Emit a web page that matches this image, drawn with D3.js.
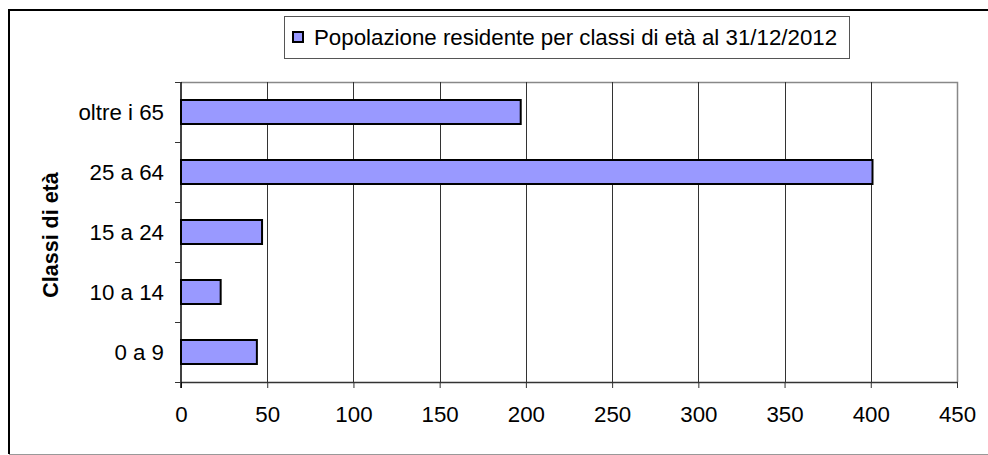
<!DOCTYPE html>
<html>
<head>
<meta charset="utf-8">
<script src="https://cdn.jsdelivr.net/npm/d3@7"></script>
<style>
  body { margin: 0; background: #fff; }
  text { font-family: "Liberation Sans", Arial, sans-serif; fill: #000; }
</style>
</head>
<body>
<div id="chart"></div>
<script>
  // age classes, bottom to top as in the picture
  const categories = ["0 a 9", "10 a 14", "15 a 24", "25 a 64", "oltre i 65"];
  const values = [44, 23, 47, 401, 197];
  const xTicks = [0, 50, 100, 150, 200, 250, 300, 350, 400, 450];
  const legendLabel = "Popolazione residente per classi di età al 31/12/2012";
  const yTitle = "Classi di età";

  const width = 988, height = 455;
  const margin = { top: 82, right: 30, bottom: 73, left: 181 };
  const fontSize = "22.3px";

  const svg = d3.select("#chart").append("svg")
    .attr("width", width)
    .attr("height", height);

  // outer frame (right side falls outside the picture)
  svg.append("path")
    .attr("d", `M994,10 H9 V454`)
    .attr("fill", "none")
    .attr("stroke", "#000")
    .attr("stroke-width", 2);
  svg.append("line")
    .attr("x1", 9).attr("x2", 994)
    .attr("y1", 454.5).attr("y2", 454.5)
    .attr("stroke", "#999");

  let x = d3.scaleLinear()
    .domain([0, 450])
    .range([margin.left, width - margin.right - 1]);

  let y = d3.scaleBand()
    .domain(categories.slice().reverse())
    .range([margin.top, height - margin.bottom])
    .paddingInner(0.6)
    .paddingOuter(0.3);

  const plotBottom = height - margin.bottom;

  // plot frame top/right
  svg.append("path")
    .attr("d", `M${x(0)},${margin.top + 0.5} H${x(450) + 0.5} V${plotBottom}`)
    .attr("fill", "none")
    .attr("stroke", "#888")
    .attr("stroke-width", 1.5);

  // vertical gridlines
  svg.selectAll("line.grid")
    .data(xTicks.filter(d => d > 0 && d < 450))
    .enter()
    .append("line")
    .attr("class", "grid")
    .attr("x1", d => Math.round(x(d)) + 0.5)
    .attr("x2", d => Math.round(x(d)) + 0.5)
    .attr("y1", margin.top)
    .attr("y2", plotBottom)
    .attr("stroke", "#333");

  // x axis
  let xAxis = d3.axisBottom(x)
    .tickValues(xTicks)
    .tickSize(6)
    .tickSizeOuter(0)
    .tickPadding(18);

  let gx = svg.append("g")
    .attr("transform", `translate(0, ${plotBottom})`)
    .call(xAxis);
  gx.attr("font-size", null).attr("font-family", null);
  gx.select(".domain").attr("stroke", "#333").attr("stroke-width", 1.5);
  gx.selectAll(".tick line").attr("stroke", "#333");
  gx.selectAll("text")
    .style("font-size", fontSize)
    .attr("fill", "#000");

  // y axis: ticks between bands
  let yEdges = d3.range(categories.length + 1).map(i => margin.top + i * (plotBottom - margin.top) / categories.length);

  svg.append("line")
    .attr("x1", x(0)).attr("x2", x(0))
    .attr("y1", margin.top).attr("y2", plotBottom + 6)
    .attr("stroke", "#000")
    .attr("stroke-width", 1.5);

  svg.selectAll("line.ytick")
    .data(yEdges)
    .enter()
    .append("line")
    .attr("class", "ytick")
    .attr("x1", x(0) - 6).attr("x2", x(0))
    .attr("y1", d => Math.round(d) + 0.5).attr("y2", d => Math.round(d) + 0.5)
    .attr("stroke", "#333");

  svg.selectAll("text.cat")
    .data(categories)
    .enter()
    .append("text")
    .attr("class", "cat")
    .attr("x", x(0) - 17)
    .attr("y", d => y(d) + y.bandwidth() / 2)
    .attr("dy", "0.35em")
    .attr("text-anchor", "end")
    .style("font-size", fontSize)
    .text(d => d);

  // bars
  svg.selectAll("rect.bar")
    .data(categories.map((c, i) => ({ name: c, value: values[i] })))
    .enter()
    .append("rect")
    .attr("class", "bar")
    .attr("x", x(0))
    .attr("y", d => y(d.name))
    .attr("width", d => x(d.value) - x(0))
    .attr("height", y.bandwidth())
    .attr("fill", "#9999FF")
    .attr("stroke", "#000")
    .attr("stroke-width", 2);

  // y title
  svg.append("text")
    .attr("transform", `translate(58, ${(margin.top + plotBottom) / 2 + 3}) rotate(-90)`)
    .attr("text-anchor", "middle")
    .style("font-size", "21.5px")
    .style("font-weight", "bold")
    .text(yTitle);

  // legend
  let legend = svg.append("g");
  legend.append("rect")
    .attr("x", 284.5).attr("y", 16.5)
    .attr("width", 565).attr("height", 42)
    .attr("fill", "#fff")
    .attr("stroke", "#555");
  legend.append("rect")
    .attr("x", 293).attr("y", 32)
    .attr("width", 10).attr("height", 10)
    .attr("fill", "#9999FF")
    .attr("stroke", "#000")
    .attr("stroke-width", 2);
  legend.append("text")
    .attr("x", 314)
    .attr("y", 37)
    .attr("dy", "0.35em")
    .style("font-size", fontSize)
    .text(legendLabel);
</script>
</body>
</html>
